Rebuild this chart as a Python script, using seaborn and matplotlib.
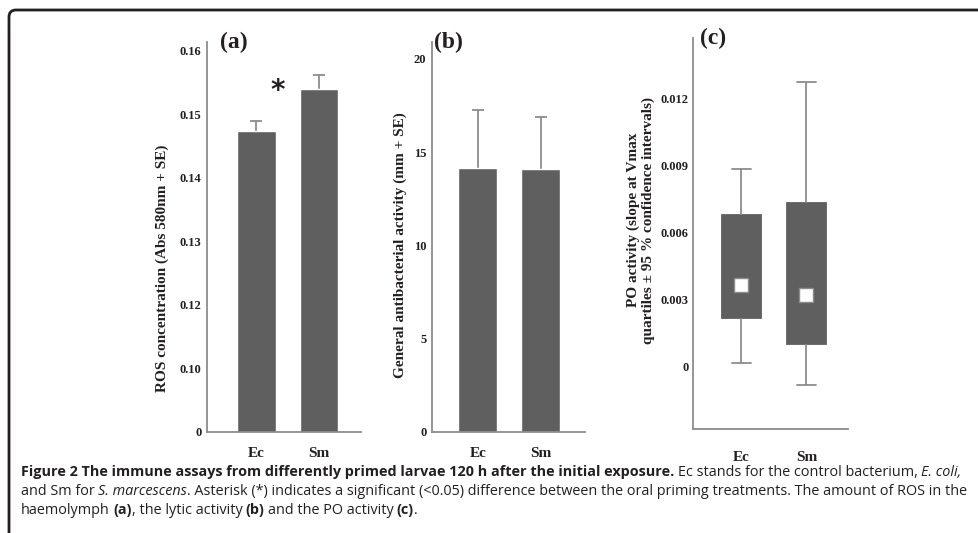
import numpy as np
import pandas as pd
import matplotlib
matplotlib.use('Agg')
import matplotlib.pyplot as plt
import seaborn as sns
from matplotlib.patches import FancyBboxPatch
from matplotlib.transforms import IdentityTransform

# data
groups = ['Ec', 'Sm']

# (a) ROS concentration, axis is broken between 0 and 0.10
ros_mean = [0.1474, 0.1540]
ros_se = [0.0016, 0.0022]
ros_ticks = [0.10, 0.11, 0.12, 0.13, 0.14, 0.15, 0.16]
ros_ticklabels = ['0', '0.10', '0.12', '0.13', '0.14', '0.15', '0.16']

# (b) lytic activity
lytic_mean = [14.14, 14.08]
lytic_se = [3.11, 2.82]
lytic_ticks = [0, 5, 10, 15, 20]

# (c) PO activity: whisker low, q1, median, q3, whisker high
po_low = [0.00012, -0.00086]
po_q1 = [0.00215, 0.00099]
po_med = [0.00362, 0.00317]
po_q3 = [0.00675, 0.00732]
po_high = [0.00882, 0.01272]
po_ticks = [0, 0.003, 0.006, 0.009, 0.012]
po_ticklabels = ['0', '0.003', '0.006', '0.009', '0.012']

W, H = 979, 533
bar_col = '#5f5f5f'
line_col = '#8c8c8c'
txt_col = '#231f20'
serif = ['Liberation Serif', 'DejaVu Serif']
cap_family = ['Liberation Sans Narrow', 'Open Sans', 'DejaVu Sans']

sns.set_style('white')
plt.rcParams['font.family'] = serif

fig = plt.figure(figsize=(W / 100, H / 100), dpi=100)


def add_ax(left, right, top, bottom):
    return fig.add_axes([left / W, 1 - bottom / H, (right - left) / W, (bottom - top) / H])


def style_ax(ax):
    sns.despine(ax=ax)
    for s in ['left', 'bottom']:
        ax.spines[s].set_color(line_col)
        ax.spines[s].set_linewidth(1.3)
    ax.tick_params(axis='y', direction='in', length=8, width=1.3, color=line_col,
                   labelsize=9, pad=4, labelcolor=txt_col)
    ax.tick_params(axis='x', length=0, labelsize=11, labelcolor=txt_col)
    for lab in ax.get_yticklabels() + ax.get_xticklabels():
        lab.set_fontweight('bold')
    ax.set_xlabel('')
    ax.set_ylabel('')


def bars_with_se(ax, means, se):
    sns.barplot(x=groups, y=means, ax=ax, color=bar_col, saturation=1,
                width=0.62, errorbar=None, zorder=2)
    xs = [p.get_x() + p.get_width() / 2 for p in ax.patches]
    eb = ax.errorbar(xs, means, yerr=[np.zeros(len(se)), se], fmt='none', ecolor=line_col,
                     elinewidth=1.3, capsize=4.3, capthick=1.3, zorder=1)
    # only the upper cap is drawn in the original
    eb[1][0].set_visible(False)


# (a)
ax_a = add_ax(207, 361, 42, 432)
bars_with_se(ax_a, ros_mean, ros_se)
ax_a.set_ylim(0.10, 0.1614)
ax_a.set_xlim(-0.79, 1.67)
ax_a.set_yticks(ros_ticks)
ax_a.set_yticklabels(ros_ticklabels)
style_ax(ax_a)
ax_a.tick_params(axis='x', pad=11)
ax_a.text(0.34, 0.1537, '*', fontsize=20, fontweight='bold', family='DejaVu Sans',
          ha='center', va='center', color=txt_col)

# (b)
ax_b = add_ax(432, 585, 42, 432)
bars_with_se(ax_b, lytic_mean, lytic_se)
ax_b.set_ylim(0, 20.9)
ax_b.set_xlim(-0.73, 1.70)
ax_b.set_yticks(lytic_ticks)
ax_b.set_yticklabels([str(t) for t in lytic_ticks])
style_ax(ax_b)
ax_b.tick_params(axis='x', pad=11)

# (c)
po_df = pd.DataFrame({
    'group': np.repeat(groups, 5),
    'value': np.ravel(np.column_stack([po_low, po_q1, po_med, po_q3, po_high])),
})
med_df = pd.DataFrame({'group': groups, 'median': po_med})
ax_c = add_ax(693, 848, 38, 429)
sns.boxplot(data=po_df, x='group', y='value', ax=ax_c, width=0.6, color=bar_col,
            saturation=1, whis=(0, 100), linewidth=1.3, linecolor=line_col,
            boxprops={'edgecolor': bar_col, 'facecolor': bar_col},
            medianprops={'linewidth': 0})
sns.stripplot(data=med_df, x='group', y='median', ax=ax_c, jitter=False, marker='s',
              size=9.5, color='white', edgecolor=line_col, linewidth=1, zorder=5)
ax_c.set_ylim(-0.00282, 0.01469)
ax_c.set_xlim(-0.746, 1.64)
ax_c.set_yticks(po_ticks)
ax_c.set_yticklabels(po_ticklabels)
style_ax(ax_c)
ax_c.tick_params(axis='x', pad=16)
ax_c.tick_params(axis='y', pad=3)

# panel letters
for ax, lab, xo in [(ax_a, '(a)', 0.085), (ax_b, '(b)', 0.01), (ax_c, '(c)', 0.045)]:
    ax.text(xo, 1.0, lab, transform=ax.transAxes, fontsize=17, fontweight='bold',
            ha='left', va='center', color=txt_col)

# y axis titles
fig.text(162 / W, 1 - 268 / H, 'ROS concentration (Abs 580nm + SE)', rotation=90,
         ha='center', va='center', fontsize=11, fontweight='bold', color=txt_col)
fig.text(400 / W, 1 - 245 / H, 'General antibacterial activity (mm + SE)', rotation=90,
         ha='center', va='center', fontsize=11, fontweight='bold', color=txt_col)
fig.text(641 / W, 1 - 220 / H,
         'PO activity (slope at Vmax\nquartiles \u00b1 95 % confidence intervals)',
         rotation=90, ha='center', va='center', fontsize=11, fontweight='bold',
         color=txt_col, linespacing=1.15, multialignment='center')

# outer frame (only the top and left edges show)
frame = FancyBboxPatch((9, -60), 1200, H - 10 + 60, boxstyle='round,pad=0,rounding_size=7',
                       transform=IdentityTransform(), fill=False, lw=2, ec='#231f20')
fig.add_artist(frame)

# caption, written run by run
fig.canvas.draw()
renderer = fig.canvas.get_renderer()
cap_size = 10.35


def text_width(s, **kw):
    t = fig.text(0, 0, s, fontsize=cap_size, family=cap_family, **kw)
    w = t.get_window_extent(renderer).width
    t.remove()
    return w


space_w = text_width('x x') - text_width('xx') - 0.5

caption = [
    [('Figure 2 The immune assays from differently primed larvae 120 h after the initial exposure.', 'bold', 'normal', False),
     ('Ec stands for the control bacterium,', 'normal', 'normal', True),
     ('E. coli,', 'normal', 'italic', True)],
    [('and Sm for', 'normal', 'normal', False),
     ('S. marcescens', 'normal', 'italic', True),
     ('. Asterisk (*) indicates a significant (<0.05) difference between the oral priming treatments. The amount of ROS in the', 'normal', 'normal', False)],
    [('haemolymph', 'normal', 'normal', False),
     ('(a)', 'bold', 'normal', True),
     (', the lytic activity', 'normal', 'normal', False),
     ('(b)', 'bold', 'normal', True),
     ('and the PO activity', 'normal', 'normal', True),
     ('(c)', 'bold', 'normal', True),
     ('.', 'normal', 'normal', False)],
]
baselines = [476, 495, 514]
for line, yb in zip(caption, baselines):
    x = 21
    for s, weight, style, gap in line:
        if gap:
            x += space_w
        t = fig.text(x, H - yb, s, transform=IdentityTransform(), fontsize=cap_size,
                     family=cap_family, fontweight=weight, fontstyle=style,
                     color=txt_col, ha='left', va='baseline')
        x = t.get_window_extent(renderer).x1

fig.savefig('out.png', dpi=100)
